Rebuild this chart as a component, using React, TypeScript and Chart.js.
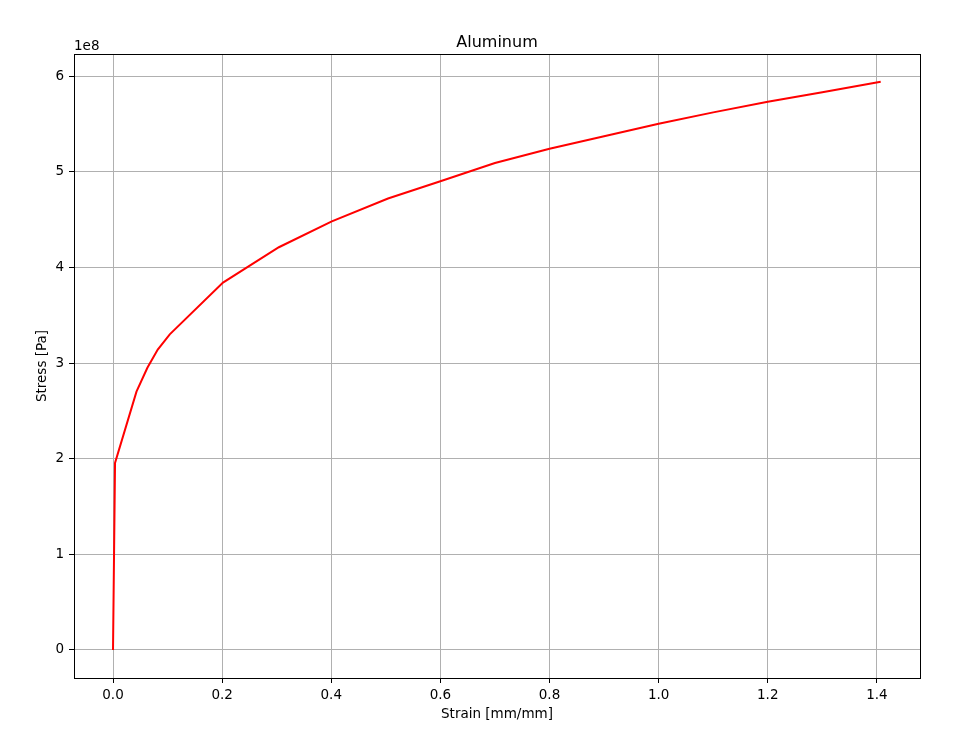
import React, { useEffect, useRef } from "react";
import { Chart, registerables } from "chart.js";

Chart.register(...registerables);

const strain = [0, 0.0037, 0.043, 0.063, 0.082, 0.104, 0.2016, 0.304, 0.401, 0.504, 0.6, 0.70, 0.80, 0.90, 1.0, 1.10, 1.2, 1.3, 1.407];
const stress = [0, 1.955e8, 2.70e8, 2.95e8, 3.14e8, 3.30e8, 3.84e8, 4.21e8, 4.48e8, 4.72e8, 4.90e8, 5.09e8, 5.24e8, 5.37e8, 5.50e8, 5.62e8, 5.73e8, 5.83e8, 5.94e8];
const xTicks = [0, 0.2, 0.4, 0.6, 0.8, 1.0, 1.2, 1.4];
const yTicks = [0, 1e8, 2e8, 3e8, 4e8, 5e8, 6e8];

const FONT = "'DejaVu Sans', sans-serif";

export default function App() {
  const ref = useRef<HTMLCanvasElement>(null);
  useEffect(() => {
    const ctx = ref.current!;
    const overlay = {
      id: "overlay",
      afterDraw(chart: any) {
        const c = chart.ctx;
        const a = chart.chartArea;
        c.save();
        c.strokeStyle = "#000";
        c.lineWidth = 1;
        c.strokeRect(74.5, 54.5, 846, 624);
        c.fillStyle = "#000";
        c.font = `16px ${FONT}`;
        c.textAlign = "center";
        c.textBaseline = "alphabetic";
        c.fillText("Aluminum", 497, 47);
        c.font = `13.5px ${FONT}`;
        c.textAlign = "left";
        c.fillText("1e8", 74, 50);
        c.textAlign = "center";
        c.fillText("Strain [mm/mm]", 497, 718);
        c.translate(46, 366);
        c.rotate(-Math.PI / 2);
        c.fillText("Stress [Pa]", 0, 0);
        c.restore();
      },
    };
    const chart = new Chart(ctx, {
      type: "scatter",
      data: {
        datasets: [
          {
            data: strain.map((x, i) => ({ x, y: stress[i] })),
            showLine: true,
            borderColor: "#ff0000",
            backgroundColor: "#ff0000",
            borderWidth: 2,
            pointRadius: 0,
            tension: 0,
          },
        ],
      },
      options: {
        animation: false,
        responsive: false,
        layout: { padding: { top: 54, right: 44, left: 0, bottom: 0 } },
        plugins: { legend: { display: false }, title: { display: false }, tooltip: { enabled: false } },
        scales: {
          x: {
            type: "linear",
            min: -0.0715,
            max: 1.479,
            afterBuildTicks: (s: any) => { s.ticks = xTicks.map((v) => ({ value: v })); },
            afterFit: (s: any) => { s.height = 63; },
            grid: { color: "#b0b0b0", lineWidth: 1, tickColor: "#000", tickLength: 5, drawTicks: true },
            border: { display: false },
            ticks: {
              color: "#000",
              font: { family: FONT, size: 13.5 },
              padding: 4,
              maxRotation: 0,
              callback: (v: any) => Number(v).toFixed(1),
            },
          },
          y: {
            type: "linear",
            min: -0.2927e8,
            max: 6.23e8,
            afterBuildTicks: (s: any) => { s.ticks = yTicks.map((v) => ({ value: v })); },
            afterFit: (s: any) => { s.width = 74; },
            grid: { color: "#b0b0b0", lineWidth: 1, tickColor: "#000", tickLength: 5, drawTicks: true },
            border: { display: false },
            ticks: {
              color: "#000",
              font: { family: FONT, size: 13.5 },
              padding: 5,
              callback: (v: any) => String(Math.round(Number(v) / 1e8)),
            },
          },
        },
      },
      plugins: [overlay],
    });
    return () => chart.destroy();
  }, []);
  return (
    <div style={{ position: "fixed", left: 0, top: 0, width: 964, height: 741, background: "#fff" }}>
      <canvas ref={ref} width={964} height={741} />
    </div>
  );
}
